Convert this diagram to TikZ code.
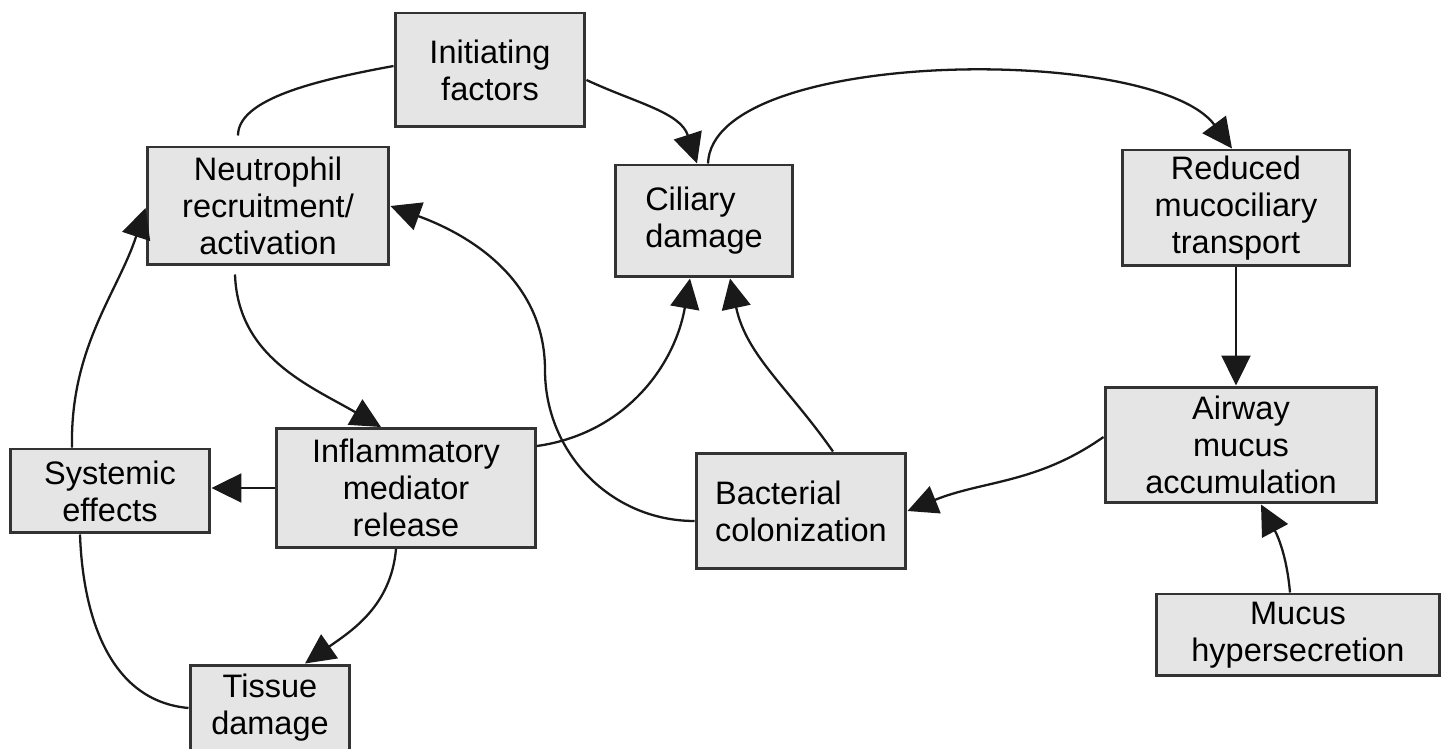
\documentclass[tikz,border=0pt]{standalone}
\usepackage{fontspec}
\setmainfont{Liberation Sans}
\usetikzlibrary{arrows.meta,calc}

\begin{document}
\begin{tikzpicture}[x=0.02cm, y=0.02cm,
  box/.style={draw=black!80, line width=1.7pt, fill=black!10, inner sep=0pt, align=center, font=\fontsize{18.5}{21}\selectfont},
  link/.style={line width=1.3pt, black!90},
  arr/.style={link, -{Triangle[length=0.6cm, width=0.58cm]}}]
\useasboundingbox (0,0) rectangle (1448,-749);

\node[box, minimum width=3.8cm, minimum height=2.28cm] (init) at (490,-70) {Initiating\\factors};
\node[box, minimum width=4.84cm, minimum height=2.36cm] (neut) at (268,-206) {Neutrophil\\recruitment/\\activation};
\node[box, align=left, minimum width=3.56cm, minimum height=2.24cm] (cil) at (704,-221) {Ciliary\\damage};
\node[box, minimum width=4.56cm, minimum height=2.32cm] (red) at (1236,-208) {Reduced\\mucociliary\\transport};
\node[box, minimum width=5.44cm, minimum height=2.32cm] (air) at (1241,-445) {Airway\\mucus\\accumulation};
\node[box, minimum width=4.0cm, minimum height=1.68cm] (sys) at (110,-491) {Systemic\\effects};
\node[box, minimum width=5.18cm, minimum height=2.38cm] (infl) at (406,-488) {Inflammatory\\mediator\\release};
\node[box, align=left, minimum width=4.2cm, minimum height=2.32cm] (bact) at (801,-511) {Bacterial\\colonization};
\node[box, minimum width=5.68cm, minimum height=1.64cm] (hyp) at (1298,-635) {Mucus\\hypersecretion};
\node[box, minimum width=3.2cm, minimum height=1.72cm] (tis) at (270,-708) {Tissue\\damage};

\coordinate (bend) at (545,-370);

% top loop
\draw[link] ($(neut.north)+(-30,10)$) .. controls +(0,37) and +(-76,-14) .. ($(init.west)+(0,4)$);
\draw[arr] ($(init.east)+(0,-10)$) to[out=-25,in=108] ($(cil.north)+(-7,0)$);
\draw[arr] ($(cil.north)+(4,0)$) .. controls +(4,116) and +(-78,105) .. ($(red.north)+(-4,0)$);
\draw[arr] (red.south) -- (red.south |- air.north);
\draw[arr] ($(air.west)+(0,8)$) to[out=215,in=22] (bact.east);
\draw[arr] ($(hyp.north)+(-8,0)$) to[out=95,in=-62] ($(air.south)+(20,0)$);
\draw[arr] ($(bact.north)+(32,0)$) to[out=125,in=-78] ($(cil.south)+(26,0)$);
\draw[arr] ($(infl.east)+(0,42)$) to[out=8,in=-100] ($(cil.south)+(-14,0)$);
\draw[arr] ($(bact.west)+(0,-10)$) to[out=180,in=-90] (bend) to[out=90,in=-20] (neut.east);

% left loop
\draw[arr] ($(neut.south)+(-33,-8)$) to[out=-88,in=150] ($(infl.north)+(-25,0)$);
\draw[arr] (infl.west) -- (infl.west -| sys.east);
\draw[arr] ($(sys.north)+(-38,0)$) .. controls +(-2,100) and +(-28,-85) .. ($(neut.west)+(0,-2)$);
\draw[link] ($(sys.south)+(-30,0)$) to[out=-88,in=175] (tis.west);
\draw[arr] ($(infl.south)+(-10,0)$) to[out=-95,in=35] ($(tis.north)+(35,0)$);
\end{tikzpicture}
\end{document}
